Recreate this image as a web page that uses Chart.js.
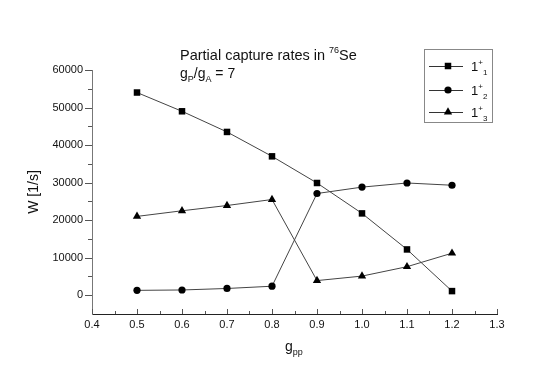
<!DOCTYPE html>
<html>
<head>
<meta charset="utf-8">
<script src="https://cdn.jsdelivr.net/npm/chart.js@4.4.1/dist/chart.umd.min.js"></script>
<style>
    html, body { margin: 0; padding: 0; background: #fff; }
    #wrap { width: 545px; height: 377px; }
</style>
</head>
<body>
<div id="wrap"><canvas id="capture-chart" width="545" height="377"></canvas></div>
<script>
    // values
    var gpp = [0.5, 0.6, 0.7, 0.8, 0.9, 1.0, 1.1, 1.2];
    var rate1 = [54000, 49000, 43500, 37000, 29900, 21800, 12200, 1100];
    var rate2 = [1300, 1400, 1800, 2400, 27100, 28800, 29900, 29300];
    var rate3 = [21000, 22500, 23900, 25500, 3900, 5100, 7600, 11200];
    var stateSub = ['1', '2', '3'];
    var markers = ['rect', 'circle', 'triangle'];
    var xTicks = [0.4, 0.5, 0.6, 0.7, 0.8, 0.9, 1.0, 1.1, 1.2, 1.3];
    var yTicks = [0, 10000, 20000, 30000, 40000, 50000, 60000];
    var xRange = [0.4, 1.3];
    var yRange = [-5000, 60000];

    var FONT = 'Arial, "Liberation Sans", sans-serif';

    function points(ys) {
        return gpp.map(function (g, i) { return { x: g, y: ys[i] }; });
    }

    // writes text with super/subscripts, parts = [[text, 'sup'|'sub'|''], ...]
    function drawParts(ctx, parts, x, y, size) {
        var small = Math.round(size * 0.65);
        parts.forEach(function (p) {
            var dy = 0, fs = size;
            if (p[1] === 'sup') { fs = small; dy = -size * 0.45; }
            if (p[1] === 'sub') { fs = small; dy = size * 0.3; }
            ctx.font = fs + 'px ' + FONT;
            ctx.fillText(p[0], x, y + dy);
            x += ctx.measureText(p[0]).width;
        });
        return x;
    }

    var sizes = { rect: 4.6, circle: 3.6, triangle: 4.8 };

    var ticksAndText = {
        id: 'ticksAndText',
        afterDraw: function (chart) {
            var ctx = chart.ctx;
            var xs = chart.scales.x, ys = chart.scales.y;
            var area = chart.chartArea;
            ctx.save();

            // tick marks, y outward, x inward
            ctx.lineWidth = 1;
            ctx.strokeStyle = '#555';
            ctx.beginPath();
            for (var v = yRange[0]; v <= yRange[1]; v += 5000) {
                var py = Math.round(ys.getPixelForValue(v)) + 0.5;
                var len = (v % 10000 === 0) ? 7 : 4;
                if (v < 0) len = 0;
                ctx.moveTo(area.left - len, py);
                ctx.lineTo(area.left, py);
            }
            for (var k = 0; k <= 18; k++) {
                var xv = xRange[0] + k * 0.05;
                var px = Math.round(xs.getPixelForValue(xv)) + 0.5;
                var l2 = (k % 2 === 0) ? 5 : 3;
                ctx.moveTo(px, area.bottom);
                ctx.lineTo(px, area.bottom - l2);
            }
            ctx.stroke();

            ctx.fillStyle = '#111';
            ctx.textBaseline = 'alphabetic';
            ctx.textAlign = 'left';

            // title
            drawParts(ctx, [['Partial capture rates in ', ''], ['76', 'sup'], ['Se', '']], 180, 60, 14.5);
            drawParts(ctx, [['g', ''], ['P', 'sub'], ['/g', ''], ['A', 'sub'], [' = 7', '']], 180, 78, 14);

            // axis titles
            drawParts(ctx, [['g', ''], ['pp', 'sub']], 285, 351, 14);
            ctx.save();
            ctx.translate(38, 192);
            ctx.rotate(-Math.PI / 2);
            ctx.textAlign = 'center';
            ctx.font = '14px ' + FONT;
            ctx.fillText('W [1/s]', 0, 0);
            ctx.restore();

            // legend box
            ctx.strokeStyle = '#888';
            ctx.strokeRect(424.5, 49.5, 68, 73);
            var rows = [66, 90, 112];
            chart.data.datasets.forEach(function (ds, i) {
                var ry = rows[i];
                ctx.strokeStyle = '#333';
                ctx.beginPath();
                ctx.moveTo(429, ry + 0.5);
                ctx.lineTo(463, ry + 0.5);
                ctx.stroke();
                ctx.fillStyle = '#000';
                Chart.helpers.drawPoint(ctx, {
                    pointStyle: markers[i], radius: sizes[markers[i]], rotation: 0, borderWidth: 0
                }, 448, ry);
                ctx.fillStyle = '#111';
                drawParts(ctx, [['1', ''], ['+', 'sup'], [stateSub[i], 'sub']], 471, ry + 5, 13);
            });
            ctx.restore();
        }
    };

    function series(label, ys, style) {
        return {
            label: label,
            data: points(ys),
            borderColor: '#444',
            borderWidth: 1,
            backgroundColor: '#000',
            pointBackgroundColor: '#000',
            pointBorderColor: '#000',
            pointBorderWidth: 0,
            pointStyle: style,
            pointRadius: sizes[style],
            tension: 0,
            fill: false
        };
    }

    function setTicks(list) {
        return function (scale) {
            scale.ticks = list.map(function (v) { return { value: v }; });
        };
    }

    new Chart(document.getElementById('capture-chart'), {
        type: 'line',
        data: {
            datasets: [
                series('1+1', rate1, markers[0]),
                series('1+2', rate2, markers[1]),
                series('1+3', rate3, markers[2])
            ]
        },
        options: {
            responsive: false,
            animation: false,
            devicePixelRatio: 1,
            layout: { padding: { top: 70, right: 48, left: 0, bottom: 0 } },
            plugins: {
                legend: { display: false },
                tooltip: { enabled: false }
            },
            scales: {
                x: {
                    type: 'linear',
                    min: xRange[0],
                    max: xRange[1],
                    grid: { display: false, drawTicks: false },
                    border: { display: true, color: '#222', width: 1 },
                    ticks: {
                        padding: 4,
                        color: '#111',
                        font: { family: FONT, size: 11 },
                        maxRotation: 0,
                        autoSkip: false,
                        callback: function (v) { return Number(v).toFixed(1); }
                    },
                    afterBuildTicks: setTicks(xTicks),
                    afterFit: function (scale) { scale.height = 63; }
                },
                y: {
                    min: yRange[0],
                    max: yRange[1],
                    grid: { display: false, drawTicks: false },
                    border: { display: true, color: '#777', width: 1 },
                    ticks: {
                        padding: 9,
                        color: '#111',
                        font: { family: FONT, size: 11 },
                        autoSkip: false,
                        callback: function (v) { return String(v); }
                    },
                    afterBuildTicks: setTicks(yTicks),
                    afterFit: function (scale) { scale.width = 92; }
                }
            }
        },
        plugins: [ticksAndText]
    });
</script>
</body>
</html>
